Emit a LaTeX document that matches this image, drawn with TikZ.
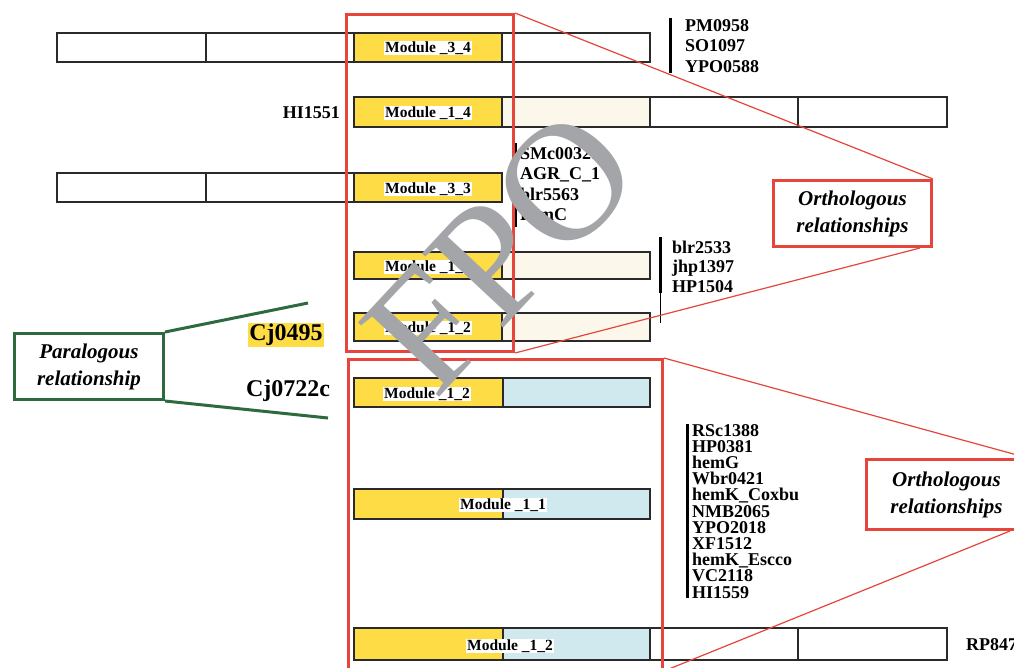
\documentclass[tikz,border=0pt]{standalone}
\usepackage{fontspec}
\setmainfont{Liberation Serif}
\usetikzlibrary{calc}
\definecolor{modyel}{HTML}{FDDC45}
\definecolor{cream}{HTML}{FBF7EA}
\definecolor{ltblue}{HTML}{CFE9EF}
\definecolor{redc}{HTML}{E5453B}
\definecolor{greenc}{HTML}{2D6A3E}
\definecolor{fpoc}{HTML}{A3A5A8}
\definecolor{boxc}{HTML}{2A2A2A}
\newcommand\segbox[5]{\filldraw[segline, fill=#5] (#1,#3) rectangle (#2,#4);}
\begin{document}
\begin{tikzpicture}[x=1pt,y=-1pt,
  segline/.style={draw=boxc, line width=1.3pt},
  modlab/.style={fill=white, inner sep=1pt, font=\fontsize{15.5}{15.5}\selectfont\bfseries},
  gene/.style={anchor=base west, inner sep=0pt, font=\fontsize{18}{18}\selectfont\bfseries},
  gbar/.style={draw=black, line width=3pt},
  redbox/.style={draw=redc, line width=3pt, inner sep=0pt, anchor=north west},
  redline/.style={draw=redc, line width=1.2pt},
  relbox/.style={align=center, font=\fontsize{21}{27}\selectfont\bfseries\itshape, inner sep=0pt},
  greenl/.style={draw=greenc, line width=3pt},
  big/.style={font=\fontsize{24}{24}\selectfont\bfseries, inner sep=1pt}
]
\useasboundingbox (0,0) rectangle (1014,667);
\fill[white] (0,0) rectangle (1014,667);

% rows of segments
\segbox{57}{206}{33}{62}{white}
\segbox{206}{354}{33}{62}{white}
\segbox{354}{502}{33}{62}{modyel}
\segbox{502}{650}{33}{62}{white}

\segbox{354}{502}{97}{127}{modyel}
\segbox{502}{650}{97}{127}{cream}
\segbox{650}{798}{97}{127}{white}
\segbox{798}{947}{97}{127}{white}

\segbox{57}{206}{173}{202}{white}
\segbox{206}{354}{173}{202}{white}
\segbox{354}{502}{173}{202}{modyel}

\segbox{354}{502}{252}{279}{modyel}
\segbox{502}{650}{252}{279}{cream}

\segbox{354}{502}{313}{341}{modyel}
\segbox{502}{650}{313}{341}{cream}

\segbox{354}{503}{378}{407}{modyel}
\segbox{503}{650}{378}{407}{ltblue}

\segbox{354}{503}{489}{519}{modyel}
\segbox{503}{650}{489}{519}{ltblue}

\segbox{354}{503}{628}{660}{modyel}
\segbox{503}{650}{628}{660}{ltblue}
\segbox{650}{798}{628}{660}{white}
\segbox{798}{947}{628}{660}{white}

% module labels
\node[modlab] (m34) at (428,48) {Module \_3\_4};
\node[modlab] (m14) at (428,113) {Module \_1\_4};
\node[modlab] (m33) at (428,189) {Module \_3\_3};
\node[modlab] (m12a) at (428,267) {Module \_1\_2};
\node[modlab] (m12b) at (428,328) {Module \_1\_2};
\node[modlab] (m12c) at (427,394) {Module \_1\_2};
\node[modlab] (m11) at (503,505) {Module \_1\_1};
\node[modlab] (m12d) at (510,646) {Module \_1\_2};

% gene labels
\node[big, fill=modyel] (cj0495) at (286,335) {Cj0495};
\node[big] (cj0722) at (288,391) {Cj0722c};
\node[font=\fontsize{18}{18}\selectfont\bfseries, anchor=east, inner sep=0pt] (hi1551) at (340,113) {HI1551};
\node[font=\fontsize{18}{18}\selectfont\bfseries, anchor=west, inner sep=0pt] (rp847) at (966,645) {RP847};

% gene list 1
\foreach \t [count=\i] in {PM0958,SO1097,YPO0588}
  \node[gene] (ga\i) at (685,{31+20.5*(\i-1)}) {\t};
\draw[gbar] (670,18) -- (670,73);
% gene list 2
\foreach \t [count=\i] in {SMc00321,AGR\_C\_1,blr5563,PrmC}
  \node[gene] (gb\i) at (520,{159+20.5*(\i-1)}) {\t};
\draw[gbar] (515,143) -- (515,227);
% gene list 3
\foreach \t [count=\i] in {blr2533,jhp1397,HP1504}
  \node[gene] (gc\i) at (672,{253+19.5*(\i-1)}) {\t};
\draw[gbar] (660,237) -- (660,293);
\draw[line width=1pt] (660,293) -- (660,323);
% gene list 4
\foreach \t [count=\i] in {RSc1388,HP0381,hemG,Wbr0421,hemK\_Coxbu,NMB2065,YPO2018,XF1512,hemK\_Escco,VC2118,HI1559}
  \node[gene] (gd\i) at (692,{436+16.2*(\i-1)}) {\t};
\draw[gbar] (687,424) -- (687,598);

% red boxes
\node[redbox, minimum width=167pt, minimum height=337pt] (redA) at (345,13) {};
\node[redbox, minimum width=314pt, minimum height=310pt] (redB) at (347,358) {};
\node[redbox, minimum width=158pt, minimum height=66pt] (orthoA) at (772,179) {};
\node[relbox] (orthoAt) at (orthoA.center) {Orthologous\\relationships};
\node[redbox, minimum width=160pt, minimum height=70pt] (orthoB) at (865,458) {};
\node[relbox] (orthoBt) at (orthoB.center) {Orthologous\\relationships};
\draw[redline] (redA.north east) -- (orthoA.north east);
\draw[redline] (redA.south east) -- ($(orthoA.south east)+(-13,0)$);
\draw[redline] (redB.north east) -- (orthoB.north east);
\draw[redline] (redB.south east) -- ($(orthoB.south east)+(-18,0)$);

% paralogous
\node[draw=greenc, line width=3pt, minimum width=149pt, minimum height=66pt, inner sep=0pt, anchor=north west] (para) at (13,332) {};
\node[relbox] (parat) at (para.center) {Paralogous\\relationship};
\coordinate (pu) at (308,303);
\coordinate (pd) at (328,418);
\draw[greenl] (para.north east) -- (pu);
\draw[greenl] (para.south east) -- (pd);

% watermark
\node[font=\fontsize{168}{168}\selectfont, text=fpoc, rotate=47, inner sep=0pt] (fpo) at (501,251) {FPO};
\end{tikzpicture}
\end{document}
